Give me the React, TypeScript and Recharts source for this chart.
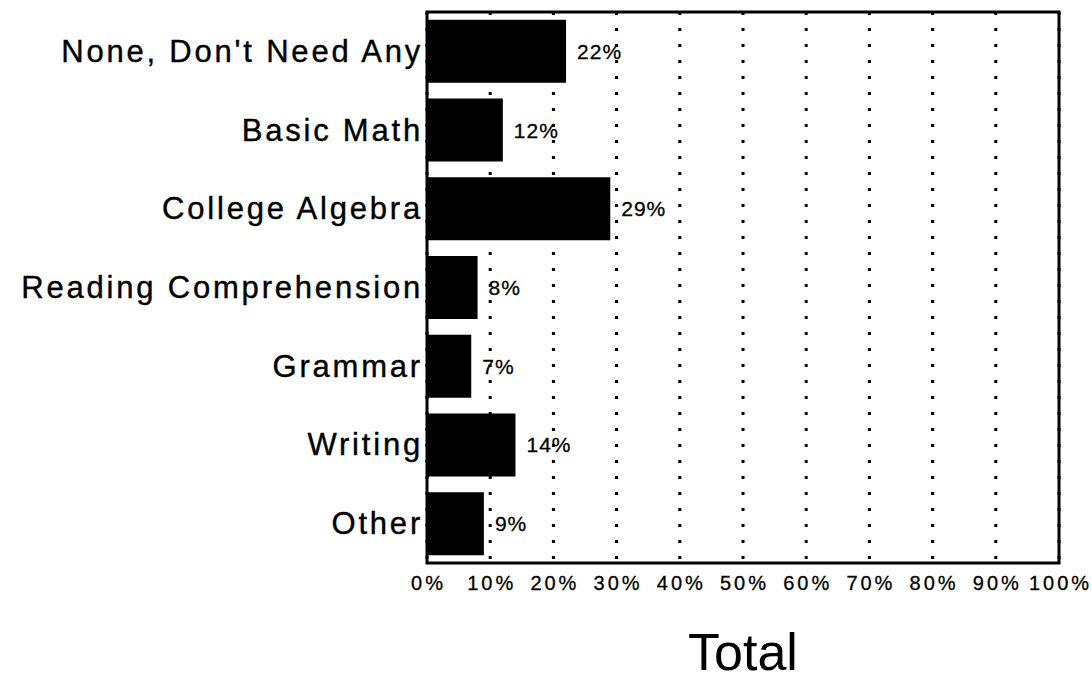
import { BarChart, Bar, XAxis, YAxis, CartesianGrid, LabelList, ReferenceArea } from "recharts";

// categories and percentages
const categories = [
  "None, Don't Need Any",
  "Basic Math",
  "College Algebra",
  "Reading Comprehension",
  "Grammar",
  "Writing",
  "Other",
];
const totals = [22, 12, 29, 8, 7, 14, 9];
const xTicks = [0, 10, 20, 30, 40, 50, 60, 70, 80, 90, 100];

const FONT = "'Liberation Sans', Arial, Helvetica, sans-serif";

const data = categories.map((name, i) => ({ name, value: totals[i] }));

const CategoryTick = ({ x, y, payload }: any) => (
  <text
    x={x}
    y={y}
    textAnchor="end"
    dominantBaseline="central"
    fontFamily={FONT}
    fontSize={31}
    letterSpacing={2.8}
    stroke="#000"
    strokeWidth={0.4}
    fill="#000"
  >
    {payload.value}
  </text>
);

const PercentTick = ({ x, y, payload }: any) => (
  <text
    x={x + 1.5}
    y={y + 27}
    textAnchor="middle"
    fontFamily={FONT}
    fontSize={20}
    letterSpacing={3}
    stroke="#000"
    strokeWidth={0.3}
    fill="#000"
  >
    {`${payload.value}%`}
  </text>
);

const App = () => {
  return (
    <div style={{ position: "absolute", left: 0, top: 0, background: "#fff" }}>
      <BarChart
        width={1092}
        height={681}
        data={data}
        layout="vertical"
        margin={{ top: 12, right: 33, bottom: 0, left: 0 }}
        barCategoryGap="10%"
      >
        <CartesianGrid
          horizontal={false}
          stroke="#000"
          strokeWidth={3}
          strokeDasharray="3 13"
        />
        <XAxis
          type="number"
          domain={[0, 100]}
          ticks={xTicks}
          interval={0}
          axisLine={false}
          tickLine={false}
          tickSize={0}
          tickMargin={0}
          height={118}
          tick={<PercentTick />}
          label={{
            value: "Total",
            position: "insideBottom",
            offset: 11,
            fontSize: 52,
            fontFamily: FONT,
            fill: "#000",
          }}
        />
        <YAxis
          type="category"
          dataKey="name"
          width={427}
          axisLine={false}
          tickLine={false}
          tickSize={0}
          tickMargin={4}
          interval={0}
          tick={<CategoryTick />}
        />
        <Bar dataKey="value" fill="#000" isAnimationActive={false}>
          <LabelList
            dataKey="value"
            position="right"
            offset={11}
            formatter={(v: number) => `${v}%`}
            fontFamily={FONT}
            fontSize={21}
            letterSpacing={1}
            stroke="#000"
            strokeWidth={0.3}
            fill="#000"
          />
        </Bar>
        <ReferenceArea x1={0} x2={100} fill="none" stroke="#000" strokeWidth={3} ifOverflow="visible" />
      </BarChart>
    </div>
  );
};

export default App;
